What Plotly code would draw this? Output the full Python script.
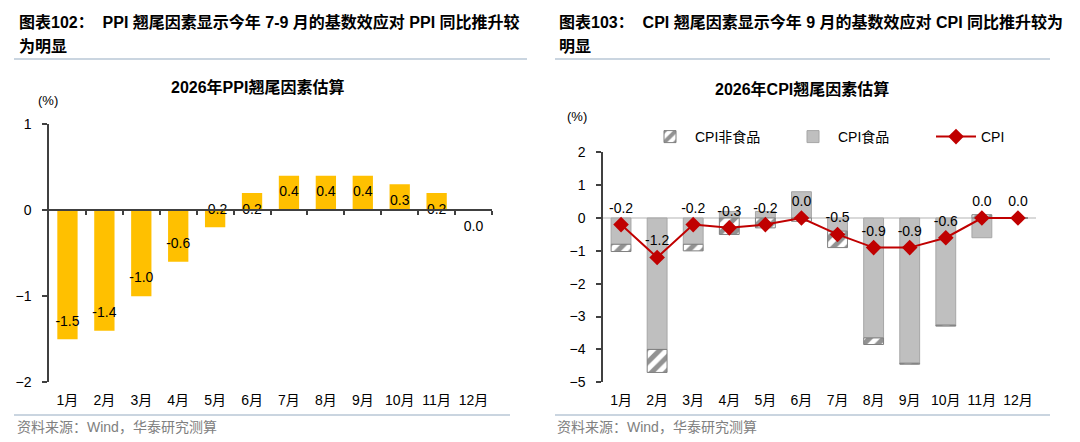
import plotly.graph_objects as go

months = ["1月", "2月", "3月", "4月", "5月", "6月", "7月", "8月", "9月", "10月", "11月", "12月"]
ppi = [-1.5, -1.4, -1.0, -0.6, -0.2, 0.2, 0.4, 0.4, 0.4, 0.3, 0.2, 0.0]
cpi_food = [-0.8, -4.0, -0.8, 0.2, 0.2, 0.8, -0.4, -3.65, -4.42, -3.26, -0.6, 0.0]
cpi_nonfood = [-0.22, -0.7, -0.2, -0.5, -0.3, -0.1, -0.5, -0.2, -0.03, -0.03, 0.1, 0.0]
cpi = [-0.2, -1.2, -0.2, -0.3, -0.2, 0.0, -0.5, -0.9, -0.9, -0.6, 0.0, 0.0]

ppi_yticks = [1, 0, -1, -2]
cpi_yticks = [2, 1, 0, -1, -2, -3, -4, -5]

FONT = "Liberation Sans, Arial, Noto Sans CJK SC, sans-serif"
W, H = 1080, 442

def px_x(p):
    return p / W

def px_y(p):
    return 1 - p / H

L_DOM_X = [px_x(49), px_x(492)]
L_DOM_Y = [px_y(382.3), px_y(124)]
R_DOM_X = [px_x(603), px_x(1036)]
R_DOM_Y = [px_y(382.3), px_y(152.3)]
L_RANGE = [-2, 1]
R_RANGE = [-5, 2]

fig = go.Figure()

# ---- Left: PPI ----
fig.add_trace(go.Bar(
    x=months, y=ppi, marker=dict(color="#FFC000", line=dict(width=0)),
    width=0.55, showlegend=False, xaxis="x", yaxis="y", hoverinfo="skip",
))
label_y = [v + 0.2 if v < 0 else v - 0.2 for v in ppi]
fig.add_trace(go.Scatter(
    x=months, y=label_y, mode="text", text=[f"{v:.1f}" for v in ppi],
    textfont=dict(size=14, color="#000000", family=FONT), showlegend=False,
    xaxis="x", yaxis="y", hoverinfo="skip",
))
# invisible trace to carry the zero-line axis
fig.add_trace(go.Scatter(
    x=list(range(len(months))), y=ppi, mode="markers", marker=dict(opacity=0),
    showlegend=False, xaxis="x3", yaxis="y", hoverinfo="skip",
))

# ---- Right: CPI ----
fig.add_trace(go.Bar(
    x=months, y=cpi_food, name="CPI食品", legendrank=2,
    marker=dict(color="#BFBFBF", line=dict(color="#A6A6A6", width=1)),
    width=0.55, xaxis="x2", yaxis="y2", hoverinfo="skip",
))
fig.add_trace(go.Bar(
    x=months, y=cpi_nonfood, name="CPI非食品", legendrank=1,
    marker=dict(color="white", line=dict(color="#7F7F7F", width=1),
                pattern=dict(shape="/", fgcolor="#262626", bgcolor="white",
                             size=10, solidity=0.5)),
    width=0.55, xaxis="x2", yaxis="y2", hoverinfo="skip",
))
fig.add_trace(go.Scatter(
    x=months, y=cpi, name="CPI", legendrank=3, mode="lines+markers+text",
    line=dict(color="#C00000", width=2),
    marker=dict(symbol="diamond", size=12, color="#C00000"),
    text=[f"{v:.1f}" for v in cpi], textposition="top center",
    textfont=dict(size=14, color="#000000", family=FONT),
    xaxis="x2", yaxis="y2", hoverinfo="skip",
))

axis_font = dict(size=14, color="#000000", family=FONT)
zero_pos = L_DOM_Y[0] + (L_DOM_Y[1] - L_DOM_Y[0]) * (0 - L_RANGE[0]) / (L_RANGE[1] - L_RANGE[0])

fig.update_layout(
    width=W, height=H, margin=dict(l=0, r=0, t=0, b=0, autoexpand=False),
    paper_bgcolor="white", plot_bgcolor="white",
    font=dict(family=FONT, size=14, color="#000000"),
    barmode="relative", bargap=0.45,
    xaxis=dict(domain=L_DOM_X, anchor="y", type="category", range=[-0.5, 11.5],
               showline=False, showgrid=False, zeroline=False, ticks="",
               tickfont=axis_font, ticklabelstandoff=8, tickangle=0),
    xaxis3=dict(overlaying="x", anchor="free", position=zero_pos, range=[-0.5, 11.5],
                showline=True, linecolor="#404040", linewidth=1.5,
                ticks="outside", ticklen=4, tickcolor="#404040", tickwidth=1.5,
                tickvals=[i + 0.5 for i in range(len(months))],
                showticklabels=False, showgrid=False, zeroline=False),
    yaxis=dict(domain=L_DOM_Y, anchor="x", range=L_RANGE, tickvals=ppi_yticks,
               showline=True, linecolor="#404040", linewidth=1.5,
               ticks="outside", ticklen=5, tickcolor="#404040", tickwidth=1.5,
               showgrid=False, zeroline=False, tickfont=axis_font, ticklabelstandoff=8),
    xaxis2=dict(domain=R_DOM_X, anchor="y2", type="category", range=[-0.5, 11.5],
                showline=False, showgrid=False, zeroline=False, ticks="",
                tickfont=axis_font, ticklabelstandoff=8, tickangle=0),
    yaxis2=dict(domain=R_DOM_Y, anchor="x2", range=R_RANGE, tickvals=cpi_yticks,
                showline=True, linecolor="#404040", linewidth=1.5,
                ticks="outside", ticklen=5, tickcolor="#404040", tickwidth=1.5,
                showgrid=False, zeroline=True, zerolinecolor="#D9D9D9", zerolinewidth=2,
                tickfont=axis_font, ticklabelstandoff=8),
    legend=dict(orientation="h", x=px_x(645), y=px_y(121), xanchor="left", yanchor="top",
                entrywidth=88, entrywidthmode="pixels", font=dict(size=14, family=FONT),
                bgcolor="rgba(0,0,0,0)", itemwidth=40, tracegroupgap=0),
)

annotations = [
    dict(x=px_x(17), y=px_y(22), text="<b>图表102：  PPI 翘尾因素显示今年 7-9 月的基数效应对 PPI 同比推升较</b>",
         font=dict(size=16)),
    dict(x=px_x(17), y=px_y(47), text="<b>为明显</b>", font=dict(size=16)),
    dict(x=px_x(557), y=px_y(22), text="<b>图表103：  CPI 翘尾因素显示今年 9 月的基数效应对 CPI 同比推升较为</b>",
         font=dict(size=16)),
    dict(x=px_x(557), y=px_y(47), text="<b>明显</b>", font=dict(size=16)),
    dict(x=px_x(15), y=px_y(427), text="资料来源：Wind，华泰研究测算", font=dict(size=14, color="#808080")),
    dict(x=px_x(555), y=px_y(427), text="资料来源：Wind，华泰研究测算", font=dict(size=14, color="#808080")),
    dict(x=px_x(36), y=px_y(101), text="(%)", font=dict(size=13)),
    dict(x=px_x(565), y=px_y(117), text="(%)", font=dict(size=13)),
]
for a in annotations:
    a.update(xref="paper", yref="paper", showarrow=False, xanchor="left", yanchor="middle")
    a["font"].setdefault("family", FONT)
    a["font"].setdefault("color", "#000000")
annotations += [
    dict(x=px_x(257), y=px_y(87), text="<b>2026年PPI翘尾因素估算</b>", xanchor="center"),
    dict(x=px_x(802), y=px_y(89), text="<b>2026年CPI翘尾因素估算</b>", xanchor="center"),
]
for a in annotations[-2:]:
    a.update(xref="paper", yref="paper", showarrow=False, yanchor="middle",
             font=dict(size=16, family=FONT, color="#000000"))
fig.update_layout(annotations=annotations)

shapes = []
for x0, x1 in [(14, 527), (555, 1050)]:
    shapes.append(dict(type="line", xref="paper", yref="paper", x0=px_x(x0), x1=px_x(x1),
                       y0=px_y(59), y1=px_y(59), line=dict(color="#B8C7D6", width=1.5)))
for x0, x1 in [(14, 510), (555, 1050)]:
    shapes.append(dict(type="line", xref="paper", yref="paper", x0=px_x(x0), x1=px_x(x1),
                       y0=px_y(415), y1=px_y(415), line=dict(color="#B8C7D6", width=1.5)))
fig.update_layout(shapes=shapes)

fig.write_html("out.html")
